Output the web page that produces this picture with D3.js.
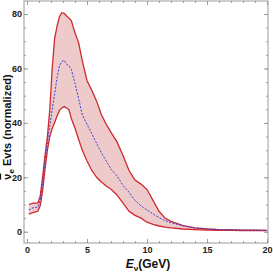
<!DOCTYPE html>
<html>
<head>
<meta charset="utf-8">
<script src="https://cdn.jsdelivr.net/npm/d3@7"></script>
<style>
body { margin: 0; background: #fff; }
svg { display: block; }
</style>
</head>
<body>
<script>
var width = 273;
var height = 273;

// energy grid (GeV) and the three curves
var energia = [0.15, 0.5, 0.9, 1.1, 1.3, 1.5, 1.7, 1.9, 2.1, 2.3, 2.5, 2.7, 2.9, 3.1, 3.3, 3.5, 3.7,
    4.0, 4.3, 4.6, 5.0, 5.4, 5.8, 6.2, 6.6, 7.0, 7.5, 8.0, 8.5, 9.0, 9.5, 10, 10.5, 11, 11.5, 12,
    13, 14, 15, 16, 17, 18, 19, 20];
var superiore = [10, 10.5, 10.5, 13, 20, 28, 35, 45, 60, 71, 75.5, 79, 80.5, 80.3, 79.3, 78.5, 77.5,
    73, 69.5, 63, 55.5, 52, 48, 43, 39.5, 36.5, 33, 28, 22.5, 19, 17.5, 15.5, 11.5, 7.5, 5, 3.8,
    2.2, 1.4, 1.0, 0.8, 0.7, 0.6, 0.6, 0.5];
var centrale = [8, 8.8, 9, 11.5, 18, 26, 33, 39, 45, 50.5, 56.5, 61, 62.5, 63, 61.5, 61, 59.5,
    54.5, 49, 43, 39.5, 36, 32.5, 29, 26, 23, 20.5, 17, 14.5, 11.5, 9.5, 8, 6.5, 5.2, 4.1, 3.3,
    2.2, 1.4, 1.0, 0.8, 0.7, 0.6, 0.6, 0.5];
var inferiore = [6.5, 7, 7.5, 9.5, 15, 23, 30, 35, 38, 40, 42.5, 44.5, 45.5, 46, 45.5, 44.8, 41.5,
    38, 34, 30, 26, 22.5, 20, 18.3, 16.8, 15.6, 13.5, 10.5, 7.5, 6, 5, 3.5, 2.7, 2.1, 1.7, 1.4,
    1.0, 0.8, 0.6, 0.5, 0.5, 0.4, 0.4, 0.4];

var xTicks = [0, 5, 10, 15, 20];
var yTicks = [0, 20, 40, 60, 80];

var mSx = 24, mDx = 268, mSu = 1, mGiu = 243;

var svg = d3.select("body")
    .append("svg")
    .attr("width", width)
    .attr("height", height);

var x = d3.scaleLinear().domain([-0.25, 20.08]).range([mSx, mDx]);
var y = d3.scaleLinear().domain([-4.15, 84.8]).range([mGiu, mSu]);

var punti = energia.map(function(e, i) {
    return {e: e, su: superiore[i], ce: centrale[i], gi: inferiore[i]};
});

// band
svg.append("path")
    .datum(punti)
    .attr("fill", "#eecaca")
    .attr("d", d3.area()
        .x(function(d) { return x(d.e); })
        .y0(function(d) { return y(d.gi); })
        .y1(function(d) { return y(d.su); }));

var linea = function(k) {
    return d3.line().x(function(d) { return x(d.e); }).y(function(d) { return y(d[k]); });
};

svg.append("path").datum(punti)
    .attr("fill", "none").attr("stroke", "#cc2a2f").attr("stroke-width", 1.3)
    .attr("d", linea("su"));
svg.append("path").datum(punti)
    .attr("fill", "none").attr("stroke", "#cc2a2f").attr("stroke-width", 1.3)
    .attr("d", linea("gi"));
svg.append("path").datum(punti)
    .attr("fill", "none").attr("stroke", "#3a3ad6").attr("stroke-width", 1)
    .attr("stroke-dasharray", "2,1.5")
    .attr("d", linea("ce"));

// frame
svg.append("rect")
    .attr("x", mSx).attr("y", mSu)
    .attr("width", mDx - mSx).attr("height", mGiu - mSu)
    .attr("fill", "none").attr("stroke", "#9a9a9a").attr("stroke-width", 1);

function stileAsse(g) {
    g.select(".domain").remove();
    g.selectAll("line").attr("stroke", "#9a9a9a");
    g.selectAll("text")
        .attr("fill", "#222")
        .style("font-family", "'Liberation Sans Narrow', 'Liberation Sans', Arial, sans-serif")
        .style("font-weight", "bold")
        .style("font-size", "9px");
}

var xMinor = d3.range(0, 21, 1);
var yMinor = d3.range(0, 85, 5);

// bottom & top
svg.append("g").attr("transform", "translate(0," + mGiu + ")")
    .call(d3.axisBottom(x).tickValues(xMinor).tickSize(-2).tickFormat(""))
    .call(stileAsse);
svg.append("g").attr("transform", "translate(0," + mGiu + ")")
    .call(d3.axisBottom(x).tickValues(xTicks).tickSize(-4).tickPadding(4).tickFormat(d3.format("d")))
    .call(stileAsse);
svg.append("g").attr("transform", "translate(0," + mSu + ")")
    .call(d3.axisTop(x).tickValues(xMinor).tickSize(-2).tickFormat(""))
    .call(stileAsse);
svg.append("g").attr("transform", "translate(0," + mSu + ")")
    .call(d3.axisTop(x).tickValues(xTicks).tickSize(-4).tickFormat(""))
    .call(stileAsse);

// left & right
svg.append("g").attr("transform", "translate(" + mSx + ",0)")
    .call(d3.axisLeft(y).tickValues(yMinor).tickSize(-2).tickFormat(""))
    .call(stileAsse);
svg.append("g").attr("transform", "translate(" + mSx + ",0)")
    .call(d3.axisLeft(y).tickValues(yTicks).tickSize(-4).tickPadding(2).tickFormat(d3.format("d")))
    .call(stileAsse);
svg.append("g").attr("transform", "translate(" + mDx + ",0)")
    .call(d3.axisRight(y).tickValues(yMinor).tickSize(-2).tickFormat(""))
    .call(stileAsse);
svg.append("g").attr("transform", "translate(" + mDx + ",0)")
    .call(d3.axisRight(y).tickValues(yTicks).tickSize(-4).tickFormat(""))
    .call(stileAsse);

// axis titles
var tx = svg.append("text")
    .attr("x", 148).attr("y", 268)
    .attr("text-anchor", "middle")
    .style("font-family", "'Liberation Sans', Arial, sans-serif")
    .style("font-weight", "bold")
    .style("font-size", "12px")
    .attr("fill", "#111");
tx.append("tspan").style("font-style", "italic").text("E");
tx.append("tspan").attr("dy", 3).style("font-size", "8px").text("ν");
tx.append("tspan").attr("dy", -3).text("(GeV)");

var ty = svg.append("text")
    .attr("transform", "translate(11,127) rotate(-90)")
    .attr("text-anchor", "middle")
    .style("font-family", "'Liberation Sans', Arial, sans-serif")
    .style("font-weight", "bold")
    .style("font-size", "11px")
    .attr("fill", "#111");
ty.append("tspan").style("text-decoration", "overline").text("ν");
ty.append("tspan").attr("dy", 3).style("font-size", "8px").text("e");
ty.append("tspan").attr("dy", -3).text(" Evts (normalized)");
</script>
</body>
</html>
